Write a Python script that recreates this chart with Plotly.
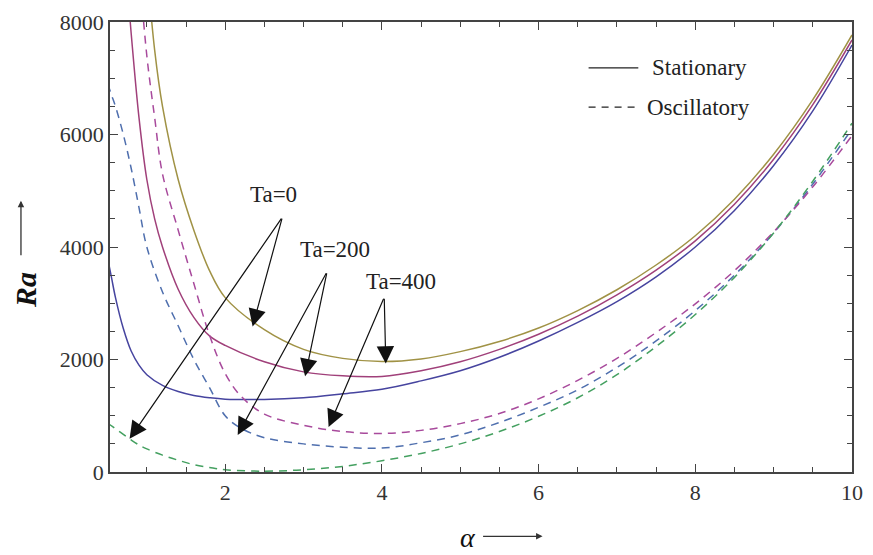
import plotly.graph_objects as go

# Ra versus wavenumber alpha
alpha_s0 = [0.5, 0.55, 0.6, 0.7, 0.8, 0.9, 1.0, 1.2, 1.4, 1.6, 1.8, 2.0, 2.5, 3.0, 3.5, 4.0, 4.5, 5.0, 5.5, 6.0, 6.5, 7.0, 7.5, 8.0, 8.5, 9.0, 9.5, 10.0]
ra_s0 = [3800, 3450, 3100, 2550, 2150, 1900, 1730, 1540, 1430, 1360, 1320, 1295, 1290, 1320, 1390, 1470, 1620, 1800, 2040, 2330, 2660, 3030, 3470, 4000, 4650, 5450, 6420, 7590]

alpha_s200 = [0.7, 0.8, 0.9, 1.0, 1.1, 1.2, 1.4, 1.6, 1.8, 2.0, 2.5, 3.0, 3.5, 4.0, 4.5, 5.0, 5.5, 6.0, 6.5, 7.0, 7.5, 8.0, 8.5, 9.0, 9.5, 10.0]
ra_s200 = [9500, 7800, 6300, 5200, 4500, 4000, 3250, 2750, 2420, 2250, 1960, 1780, 1710, 1700, 1800, 1960, 2180, 2450, 2770, 3150, 3590, 4110, 4760, 5560, 6530, 7680]

alpha_s400 = [1.0, 1.1, 1.2, 1.4, 1.6, 1.8, 2.0, 2.5, 3.0, 3.5, 4.0, 4.5, 5.0, 5.5, 6.0, 6.5, 7.0, 7.5, 8.0, 8.5, 9.0, 9.5, 10.0]
ra_s400 = [9000, 7500, 6500, 5200, 4300, 3580, 3100, 2530, 2180, 2020, 1965, 2010, 2140, 2320, 2560, 2870, 3240, 3680, 4200, 4850, 5650, 6620, 7770]

alpha_o0 = [0.5, 0.55, 0.6, 0.7, 0.8, 0.9, 1.0, 1.2, 1.4, 1.6, 1.8, 2.0, 2.2, 2.5, 3.0, 3.5, 4.0, 4.5, 5.0, 5.5, 6.0, 6.5, 7.0, 7.5, 8.0, 8.5, 9.0, 9.5, 10.0]
ra_o0 = [6900, 6700, 6500, 6000, 5400, 4700, 4000, 3200, 2600, 2000, 1500, 1000, 780, 610, 500, 440, 425, 520, 660, 880, 1150, 1460, 1860, 2330, 2870, 3500, 4250, 5120, 6100]

alpha_o200 = [0.9, 1.0, 1.1, 1.2, 1.4, 1.6, 1.8, 2.0, 2.2, 2.5, 3.0, 3.5, 4.0, 4.5, 5.0, 5.5, 6.0, 6.5, 7.0, 7.5, 8.0, 8.5, 9.0, 9.5, 10.0]
ra_o200 = [9000, 7400, 6300, 5300, 4300, 3350, 2430, 1750, 1350, 1030, 830, 720, 685, 740, 860, 1040, 1300, 1630, 2020, 2480, 2990, 3580, 4270, 5070, 5980]

alpha_o400 = [0.5, 0.55, 0.6, 0.7, 0.8, 0.9, 1.0, 1.2, 1.4, 1.6, 1.8, 2.0, 2.5, 3.0, 3.5, 4.0, 4.5, 5.0, 5.5, 6.0, 6.5, 7.0, 7.5, 8.0, 8.5, 9.0, 9.5, 10.0]
ra_o400 = [860, 820, 770, 670, 570, 480, 410, 300, 210, 130, 80, 40, 15, 40, 100, 200, 330, 500, 720, 990, 1320, 1730, 2230, 2800, 3460, 4250, 5170, 6200]

# Ta labels and their arrows (data coordinates)
label_texts = ["Ta=0", "Ta=200", "Ta=400"]
label_alpha = [2.62, 3.40, 4.24]
label_ra = [4930, 3960, 3390]
tail_alpha = [2.73, 3.30, 4.03]
tail_ra = [4531, 3559, 3108]
head_alpha = [[0.78, 2.35], [2.16, 3.02], [3.32, 4.05]]
head_ra = [[590, 2587], [660, 1701], [799, 1927]]

legend_names = ["Stationary", "Oscillatory"]

x_ticks = [2, 4, 6, 8, 10]
y_ticks = [0, 2000, 4000, 6000, 8000]

series = [
    (alpha_s0, ra_s0, "#46449f", "solid"),
    (alpha_s200, ra_s200, "#a0407a", "solid"),
    (alpha_s400, ra_s400, "#a09245", "solid"),
    (alpha_o0, ra_o0, "#4f6fae", "8px,6px"),
    (alpha_o200, ra_o200, "#a84a9c", "8px,6px"),
    (alpha_o400, ra_o400, "#44a060", "8px,6px"),
]

fig = go.Figure()
for xs, ys, col, dash in series:
    fig.add_trace(go.Scatter(x=xs, y=ys, mode="lines", showlegend=False, hoverinfo="skip",
                             line=dict(color=col, width=1.5, dash=dash, shape="spline", smoothing=1.0)))

serif = "Liberation Serif"
annotations = []
for i, t in enumerate(label_texts):
    annotations.append(dict(x=label_alpha[i], y=label_ra[i], xref="x", yref="y", text=t,
                            xanchor="center", yanchor="middle",
                            showarrow=False, font=dict(family=serif, size=23, color="#222")))
    for hx, hy in zip(head_alpha[i], head_ra[i]):
        annotations.append(dict(x=hx, y=hy, xref="x", yref="y", ax=tail_alpha[i], ay=tail_ra[i],
                                axref="x", ayref="y", text="", showarrow=True,
                                arrowhead=2, arrowsize=2.9, arrowwidth=1.2, arrowcolor="#111"))

# manual legend (line samples + labels)
shapes = [
    dict(type="line", xref="paper", yref="paper", x0=0.645, x1=0.712, y0=0.898, y1=0.898,
         line=dict(color="#222", width=1.3)),
    dict(type="line", xref="paper", yref="paper", x0=0.645, x1=0.712, y0=0.811, y1=0.811,
         line=dict(color="#222", width=1.3, dash="7px,6px")),
]
annotations.append(dict(x=0.728, y=0.898, xref="paper", yref="paper", text=legend_names[0],
                        xanchor="left", yanchor="middle", showarrow=False,
                        font=dict(family=serif, size=23, color="#222")))
annotations.append(dict(x=0.721, y=0.811, xref="paper", yref="paper", text=legend_names[1],
                        xanchor="left", yanchor="middle", showarrow=False,
                        font=dict(family=serif, size=23, color="#222")))

# axis titles with arrows
annotations.append(dict(x=-0.113, y=0.405, xref="paper", yref="paper", text="<b><i>Ra</i></b>",
                        xanchor="center", yanchor="middle",
                        textangle=-90, showarrow=False, font=dict(family=serif, size=30, color="#111")))
annotations.append(dict(x=-0.12, y=0.603, xref="paper", yref="paper", ax=0, ay=56,
                        axref="pixel", ayref="pixel", text="", showarrow=True,
                        arrowhead=2, arrowsize=1, arrowwidth=1.3, arrowcolor="#333"))
annotations.append(dict(x=0.482, y=-0.145, xref="paper", yref="paper", text="<i>α</i>",
                        xanchor="center", yanchor="middle",
                        showarrow=False, font=dict(family=serif, size=28, color="#111")))
annotations.append(dict(x=0.583, y=-0.143, xref="paper", yref="paper", ax=-61, ay=0,
                        axref="pixel", ayref="pixel", text="", showarrow=True,
                        arrowhead=2, arrowsize=1, arrowwidth=1.3, arrowcolor="#333"))

axis_common = dict(showline=True, linecolor="#444", linewidth=1.5, mirror="ticks",
                   ticks="inside", ticklen=8, tickwidth=1.3, tickcolor="#444",
                   showgrid=False, zeroline=False, ticklabeloverflow="allow",
                   tickfont=dict(family=serif, size=22, color="#333"))

fig.update_layout(
    width=873, height=555,
    margin=dict(l=110, r=11, t=10, b=83),
    plot_bgcolor="white", paper_bgcolor="white",
    showlegend=False,
    xaxis=dict(range=[0.53, 10], tickvals=x_ticks,
               minor=dict(dtick=0.5, ticks="inside", ticklen=5, tickcolor="#444", showgrid=False),
               **axis_common),
    yaxis=dict(range=[0, 8000], tickvals=y_ticks,
               minor=dict(dtick=500, ticks="inside", ticklen=5, tickcolor="#444", showgrid=False),
               **axis_common),
    annotations=annotations,
    shapes=shapes,
)

fig.write_html("out.html", config={"displayModeBar": False},
               post_script="document.body.style.margin='0';document.body.style.overflow='hidden';document.documentElement.style.overflow='hidden';")
